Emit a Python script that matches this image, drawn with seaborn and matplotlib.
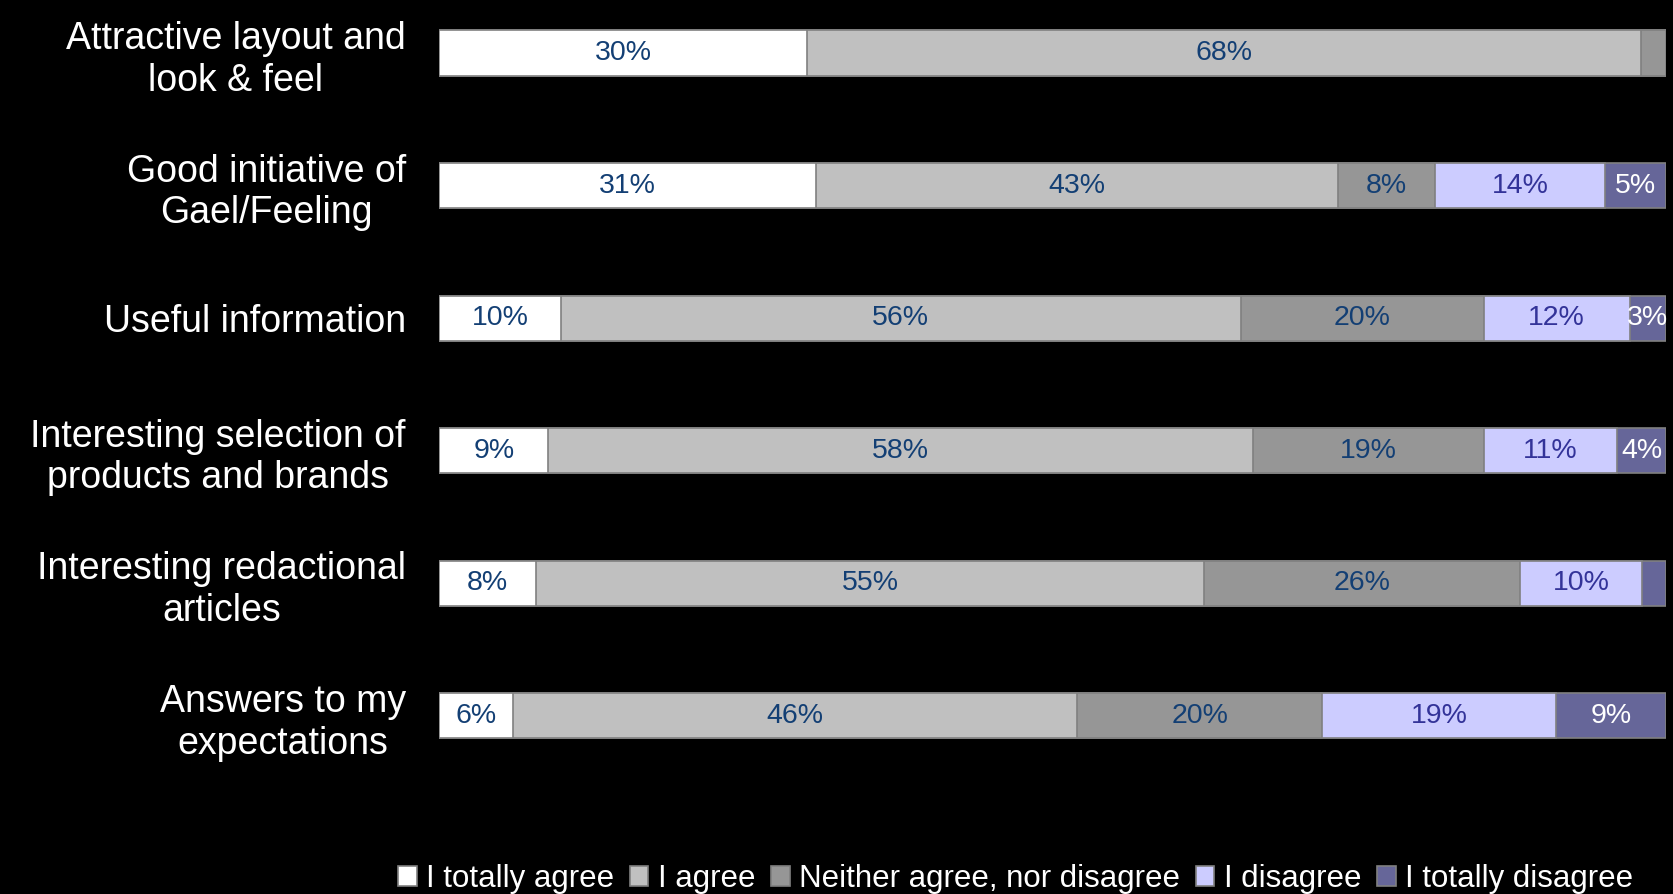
import pandas as pd
import matplotlib.pyplot as plt
import seaborn as sns
from matplotlib.patches import Patch

# =====================================================
# DATA
# =====================================================

categories = [
    "Attractive layout and\nlook & feel",
    "Good initiative of\nGael/Feeling",
    "Useful information",
    "Interesting selection of\nproducts and brands",
    "Interesting redactional\narticles",
    "Answers to my\nexpectations",
]

levels = [
    "I totally agree",
    "I agree",
    "Neither agree, nor disagree",
    "I disagree",
    "I totally disagree",
]

totally_agree = [30, 31, 10, 9, 8, 6]
agree = [68, 43, 56, 58, 55, 46]
neither = [2, 8, 20, 19, 26, 20]
disagree = [0, 14, 12, 11, 10, 19]
totally_disagree = [0, 5, 3, 4, 2, 9]

colors = ["#FFFFFF", "#C0C0C0", "#969696", "#CCCCFF", "#666699"]
label_colors = ["#133F74", "#133F74", "#133F74", "#333399", "#FFFFFF"]

# =====================================================
# BUILD TABLE (100% stacked)
# =====================================================

df = pd.DataFrame(
    {
        "category": categories,
        levels[0]: totally_agree,
        levels[1]: agree,
        levels[2]: neither,
        levels[3]: disagree,
        levels[4]: totally_disagree,
    }
).set_index("category")

shares = df.div(df.sum(axis=1), axis=0) * 100
cum = shares.cumsum(axis=1)

# =====================================================
# PLOT
# =====================================================

sns.set_style("dark")
plt.rcParams["font.family"] = ["Liberation Sans", "DejaVu Sans"]

fig = plt.figure(figsize=(16.73, 8.94), dpi=100, facecolor="black")
ax = fig.add_axes([0.2625, 0.125, 0.7333, 0.875])
ax.set_facecolor("black")

# draw cumulative totals from the last level back to the first
for i in range(len(levels) - 1, -1, -1):
    plot_df = pd.DataFrame(
        {"category": categories, "value": cum[levels[i]].values}
    )
    sns.barplot(
        data=plot_df,
        x="value",
        y="category",
        orient="h",
        color=colors[i],
        saturation=1,
        width=0.34,
        edgecolor="#808080",
        linewidth=1.2,
        ax=ax,
    )

# data labels
for row, cat in enumerate(categories):
    for i, lev in enumerate(levels):
        raw = df.loc[cat, lev]
        if raw < 3:
            continue
        start = cum.loc[cat, lev] - shares.loc[cat, lev]
        mid = start + shares.loc[cat, lev] / 2
        ax.text(
            mid,
            row,
            f"{raw}%",
            ha="center",
            va="center",
            fontsize=20.5,
            color=label_colors[i],
        )

ax.set_xlim(0, 100)
ax.set_ylim(5.5, -0.4)
ax.set_xlabel("")
ax.set_ylabel("")
ax.set_xticks([])
ax.tick_params(axis="y", length=0, pad=24, colors="white")
for lab in ax.get_yticklabels():
    lab.set_fontsize(27)
    lab.set_color("white")
    lab.set_multialignment("center")
for s in ax.spines.values():
    s.set_visible(False)
ax.grid(False)

# legend
handles = [
    Patch(facecolor=c, edgecolor="#808080", linewidth=1.2, label=l)
    for c, l in zip(colors, levels)
]
leg = fig.legend(
    handles=handles,
    loc="center",
    bbox_to_anchor=(0.607, 0.017),
    ncol=5,
    frameon=False,
    fontsize=22.5,
    handlelength=0.6,
    handleheight=0.6,
    handletextpad=0.3,
    columnspacing=0.5,
    labelcolor="white",
)

fig.savefig("out.png", dpi=100, facecolor="black")
